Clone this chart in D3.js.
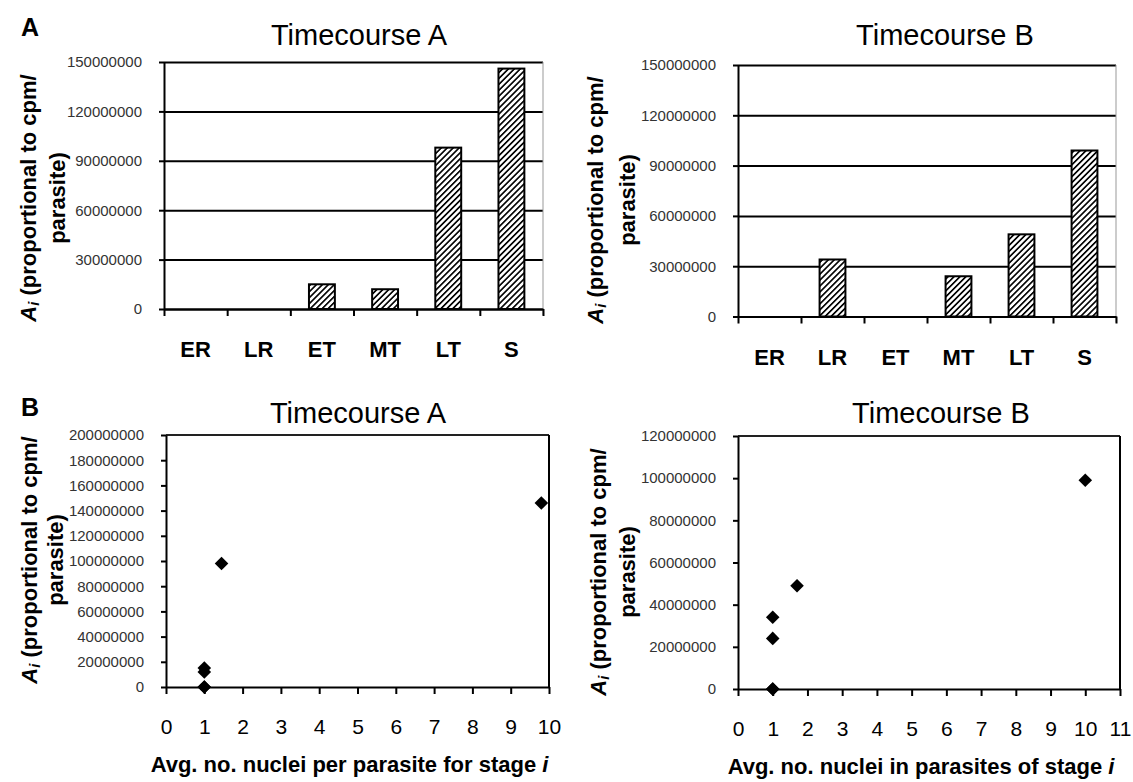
<!DOCTYPE html>
<html>
<head>
<meta charset="utf-8">
<script src="https://cdn.jsdelivr.net/npm/d3@7"></script>
<style>
  body { margin: 0; background: #fff; }
  svg { display: block; font-family: "Liberation Sans", Arial, sans-serif; }
</style>
</head>
<body>
<div id="container"></div>
<script>
// values
const stages = ["ER", "LR", "ET", "MT", "LT", "S"];
const ampA = [0, 0, 15000000, 12000000, 98000000, 146000000];
const ampB = [0, 34000000, 0, 24000000, 49000000, 99000000];
const nucleiA = [1, 1, 1, 1, 1.45, 9.8];
const nucleiB = [1, 1, 1, 1, 1.7, 10];

const barTicks = [0, 30000000, 60000000, 90000000, 120000000, 150000000];
const scatterTicksA = [0, 20000000, 40000000, 60000000, 80000000, 100000000, 120000000, 140000000, 160000000, 180000000, 200000000];
const scatterTicksB = [0, 20000000, 40000000, 60000000, 80000000, 100000000, 120000000];
const xTicksA = [0, 1, 2, 3, 4, 5, 6, 7, 8, 9, 10];
const xTicksB = [0, 1, 2, 3, 4, 5, 6, 7, 8, 9, 10, 11];

const w = 1133, h = 782;
const svg = d3.select('#container').append('svg')
    .attr('width', w)
    .attr('height', h);

// hatch for the bars
svg.append('defs').append('pattern')
    .attr('id', 'hatch')
    .attr('patternUnits', 'userSpaceOnUse')
    .attr('width', 4.2)
    .attr('height', 4.2)
    .attr('patternTransform', 'rotate(45)')
    .call(p => {
        p.append('rect').attr('width', 4.2).attr('height', 4.2).attr('fill', '#fff');
        p.append('line').attr('x1', 0.8).attr('y1', 0).attr('x2', 0.8).attr('y2', 4.2)
            .attr('stroke', '#000').attr('stroke-width', 1.7);
    });

const fmt = d => d3.format('d')(d);

const panelLetter = (txt, x, y) => {
    svg.append('text').attr('x', x).attr('y', y)
        .attr('font-size', 25).attr('font-weight', 'bold').text(txt);
};

const chartTitle = (txt, cx, y) => {
    svg.append('text').attr('x', cx).attr('y', y)
        .attr('text-anchor', 'middle').attr('font-size', 29).text(txt);
};

const yTitle = (x1, x2, cy) => {
    const t1 = svg.append('text')
        .attr('transform', `translate(${x1},${cy}) rotate(-90)`)
        .attr('text-anchor', 'middle')
        .attr('dominant-baseline', 'central')
        .attr('font-size', 22).attr('font-weight', 'bold');
    t1.append('tspan').attr('font-style', 'italic').text('A');
    t1.append('tspan').attr('font-style', 'italic').attr('font-size', 15).attr('dy', 5).text('i');
    t1.append('tspan').attr('dy', -5).text(' (proportional to cpm/');
    svg.append('text')
        .attr('transform', `translate(${x2},${cy}) rotate(-90)`)
        .attr('text-anchor', 'middle')
        .attr('dominant-baseline', 'central')
        .attr('font-size', 22).attr('font-weight', 'bold')
        .text('parasite)');
};

const styleAxis = g => {
    g.select('.domain').attr('stroke', '#000').attr('stroke-width', 2);
    g.selectAll('.tick line').attr('stroke', '#000').attr('stroke-width', 2);
};

const barChart = (values, box) => {
    const { x0, x1, y0, y1 } = box;
    const x = d3.scaleBand().domain(stages).range([x0, x1])
        .paddingInner(0.59).paddingOuter(0.295);
    const xEdges = d3.scaleLinear().domain([0, stages.length]).range([x0, x1]);
    const y = d3.scaleLinear().domain([0, 150000000]).range([y1, y0]);

    // gridlines
    svg.append('g')
        .attr('transform', `translate(${x0},0)`)
        .call(d3.axisLeft(y).tickValues(barTicks).tickSize(-(x1 - x0)).tickFormat(''))
        .call(g => g.select('.domain').remove())
        .call(g => g.selectAll('.tick line').attr('stroke', '#000').attr('stroke-width', 2));

    // thin right border
    svg.append('line')
        .attr('x1', x1).attr('x2', x1).attr('y1', y(150000000)).attr('y2', y(0) + 6)
        .attr('stroke', '#999').attr('stroke-width', 1);

    svg.selectAll(null)
        .data(values.map((v, i) => ({ stage: stages[i], v })).filter(d => d.v > 0))
        .enter()
        .append('rect')
        .attr('x', d => x(d.stage))
        .attr('y', d => y(d.v))
        .attr('width', x.bandwidth())
        .attr('height', d => y(0) - y(d.v))
        .attr('fill', 'url(#hatch)')
        .attr('stroke', '#000')
        .attr('stroke-width', 2);

    svg.append('g')
        .attr('transform', `translate(${x0},0)`)
        .call(d3.axisLeft(y).tickValues(barTicks).tickSize(5).tickSizeOuter(0).tickPadding(17).tickFormat(fmt))
        .call(styleAxis)
        .call(g => g.selectAll('text').attr('font-size', 15).attr('fill', '#333')
            .attr('font-family', '"Liberation Sans", Arial, sans-serif'));

    svg.append('g')
        .attr('transform', `translate(0,${y(0)})`)
        .call(d3.axisBottom(xEdges).tickValues(d3.range(stages.length + 1)).tickSize(7).tickSizeOuter(0).tickFormat(''))
        .call(styleAxis);

    svg.selectAll(null)
        .data(stages)
        .enter()
        .append('text')
        .attr('x', d => x(d) + x.bandwidth() / 2)
        .attr('y', y(0) + 48)
        .attr('text-anchor', 'middle')
        .attr('font-size', 22)
        .attr('font-weight', 'bold')
        .text(d => d);
};

const scatterChart = (xs, ys, box, xTicks, yTicks, xLabel) => {
    const { x0, x1, y0, y1 } = box;
    const x = d3.scaleLinear().domain([0, d3.max(xTicks)]).range([x0, x1]);
    const y = d3.scaleLinear().domain([0, d3.max(yTicks)]).range([y1, y0]);

    svg.append('line')
        .attr('x1', x0).attr('x2', x1).attr('y1', y0).attr('y2', y0)
        .attr('stroke', '#222').attr('stroke-width', 1.8);
    svg.append('line')
        .attr('x1', x1).attr('x2', x1).attr('y1', y0).attr('y2', y1)
        .attr('stroke', '#000').attr('stroke-width', 2);

    svg.append('g')
        .attr('transform', `translate(${x0},0)`)
        .call(d3.axisLeft(y).tickValues(yTicks).tickSize(5).tickSizeOuter(0).tickPadding(17).tickFormat(fmt))
        .call(styleAxis)
        .call(g => g.selectAll('text').attr('font-size', 15).attr('fill', '#333')
            .attr('font-family', '"Liberation Sans", Arial, sans-serif'));

    svg.append('g')
        .attr('transform', `translate(0,${y1})`)
        .call(d3.axisBottom(x).tickValues(xTicks).tickSize(7).tickSizeOuter(0).tickPadding(25).tickFormat(d => d))
        .call(styleAxis)
        .call(g => g.selectAll('text').attr('font-size', 21).attr('fill', '#000')
            .attr('font-family', '"Liberation Sans", Arial, sans-serif'));

    const diamond = d3.symbol(d3.symbolSquare, 92);
    svg.selectAll(null)
        .data(xs.map((v, i) => ({ x: v, y: ys[i] })))
        .enter()
        .append('path')
        .attr('d', diamond)
        .attr('transform', d => `translate(${x(d.x)},${y(d.y)}) rotate(45)`)
        .attr('fill', '#000');

    const t = svg.append('text')
        .attr('x', (x0 + x1) / 2 - 8)
        .attr('y', y1 + 85)
        .attr('text-anchor', 'middle')
        .attr('font-size', 22)
        .attr('font-weight', 'bold');
    t.append('tspan').text(xLabel + ' ');
    t.append('tspan').attr('font-style', 'italic').text('i');
};

// row A: bar charts
panelLetter('A', 21, 36);
chartTitle('Timecourse A', 359, 45);
yTitle(28, 57, 198);
barChart(ampA, { x0: 164, x1: 543, y0: 62, y1: 309 });

chartTitle('Timecourse B', 945, 45);
yTitle(595, 627, 200);
barChart(ampB, { x0: 738, x1: 1116, y0: 65, y1: 316.5 });

// row B: scatter charts
panelLetter('B', 21, 416);
chartTitle('Timecourse A', 358, 423);
yTitle(29, 55, 560);
scatterChart(nucleiA, ampA, { x0: 166, x1: 549, y0: 435, y1: 687 }, xTicksA, scatterTicksA,
    'Avg. no. nuclei per parasite for stage');

chartTitle('Timecourse B', 941, 423);
yTitle(598, 627, 572);
scatterChart(nucleiB, ampB, { x0: 738, x1: 1120, y0: 436, y1: 689 }, xTicksB, scatterTicksB,
    'Avg. no. nuclei in parasites of stage');
</script>
</body>
</html>
